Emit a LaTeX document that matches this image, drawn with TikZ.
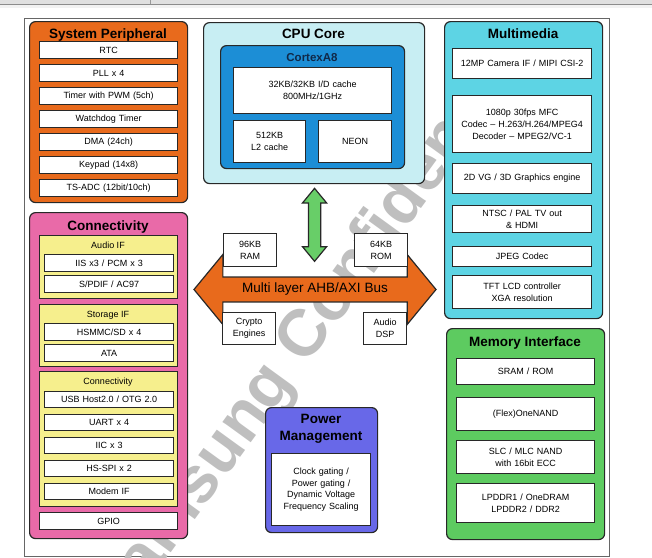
\documentclass[tikz,border=0pt]{standalone}
\usepackage{fontspec}
\setmainfont{Liberation Sans}
\usetikzlibrary{calc,shapes.arrows}

\definecolor{sysorange}{RGB}{232,106,28}
\definecolor{cpucyan}{RGB}{200,238,243}
\definecolor{cortexblue}{RGB}{28,142,214}
\definecolor{cortexink}{RGB}{16,40,72}
\definecolor{mmcyan}{RGB}{93,212,228}
\definecolor{memgreen}{RGB}{93,203,96}
\definecolor{conpink}{RGB}{233,106,168}
\definecolor{subyellow}{RGB}{246,239,141}
\definecolor{pwrblue}{RGB}{104,104,232}
\definecolor{linkgreen}{RGB}{104,206,104}
\definecolor{edge}{RGB}{40,40,40}

\begin{document}
\begin{tikzpicture}[x=1pt,y=-1pt]
    \tikzstyle{group} = [rectangle, rounded corners=6pt, draw=edge, line width=1.2pt,
        inner sep=0pt]
    \tikzstyle{sub} = [rectangle, draw=edge, line width=1pt, fill=subyellow,
        inner sep=0pt, minimum width=138pt]
    \tikzstyle{rec} = [rectangle, draw=edge, line width=1.3pt, fill=white, align=center,
        text width=132pt, minimum width=138pt, minimum height=17pt, inner sep=1pt,
        font=\fontsize{9}{12}\selectfont]
    \tikzstyle{title} = [inner sep=0pt, align=center, font=\fontsize{13.5}{17}\selectfont\bfseries]
    \tikzstyle{subtitle} = [inner sep=0pt, font=\fontsize{9}{11}\selectfont]
    \tikzstyle{fatarrow} = [double arrow, draw=edge, line width=1.2pt, inner sep=0pt,
        double arrow head indent=0pt]

    \useasboundingbox (0,0) rectangle (652,557);
    \clip (0,0) rectangle (652,557);

    % screen border and watermark
    \fill[black!12] (0,0) rectangle (652,3.5);
    \fill[black!5] (0,4) rectangle (652,8);
    \draw[black!45, line width=1pt] (0,4) -- (652,4);
    \draw[black!40, line width=0.8pt] (150,0) -- (150,3.5);
    \draw[black!60, line width=0.8pt] (24,18) rectangle (609,556);
    \node(wmark) [rotate=54, text=black!25, inner sep=0pt,
        font=\fontsize{66}{66}\selectfont\bfseries]
        at (312,330) {Samsung Confidential};

    % system peripheral
    \node(sysp) [group, fill=sysorange, minimum width=158pt, minimum height=181pt]
        at (29,21) [anchor=north west] {};
    \node(syspt) [title] at (108,38) [anchor=base] {System Peripheral};
    \node(rtc) [rec] at (39,41) [anchor=north west] {RTC};
    \node(pll) [rec] at (39,64) [anchor=north west] {PLL x 4};
    \node(timer) [rec] at (39,87) [anchor=north west] {Timer with PWM (5ch)};
    \node(wdt) [rec] at (39,110) [anchor=north west] {Watchdog Timer};
    \node(dma) [rec] at (39,133) [anchor=north west] {DMA (24ch)};
    \node(keypad) [rec] at (39,156) [anchor=north west] {Keypad (14x8)};
    \node(tsadc) [rec] at (39,179) [anchor=north west] {TS-ADC (12bit/10ch)};

    % connectivity
    \node(conn) [group, fill=conpink, minimum width=158pt, minimum height=326pt]
        at (29,212) [anchor=north west] {};
    \node(connt) [title] at (108,230) [anchor=base] {Connectivity};

    \node(audio) [sub, minimum height=63pt] at (39,235) [anchor=north west] {};
    \node(audiot) [subtitle] at (108,248) [anchor=base] {Audio IF};
    \node(iis) [rec, text width=123pt, minimum width=129pt]
        at (44,254) [anchor=north west] {IIS x3 / PCM x 3};
    \node(spdif) [rec, text width=123pt, minimum width=129pt]
        at (44,275) [anchor=north west] {S/PDIF / AC97};

    \node(storage) [sub, minimum height=62pt] at (39,304) [anchor=north west] {};
    \node(storaget) [subtitle] at (108,317) [anchor=base] {Storage IF};
    \node(hsmmc) [rec, text width=123pt, minimum width=129pt]
        at (44,323) [anchor=north west] {HSMMC/SD x 4};
    \node(ata) [rec, text width=123pt, minimum width=129pt]
        at (44,344) [anchor=north west] {ATA};

    \node(serial) [sub, minimum height=135pt] at (39,371) [anchor=north west] {};
    \node(serialt) [subtitle] at (108,384) [anchor=base] {Connectivity};
    \node(usb) [rec, text width=123pt, minimum width=129pt, minimum height=16pt]
        at (44,391) [anchor=north west] {USB Host2.0 / OTG 2.0};
    \node(uart) [rec, text width=123pt, minimum width=129pt, minimum height=16pt]
        at (44,414) [anchor=north west] {UART x 4};
    \node(iic) [rec, text width=123pt, minimum width=129pt, minimum height=16pt]
        at (44,437) [anchor=north west] {IIC x 3};
    \node(spi) [rec, text width=123pt, minimum width=129pt, minimum height=16pt]
        at (44,460) [anchor=north west] {HS-SPI x 2};
    \node(modem) [rec, text width=123pt, minimum width=129pt, minimum height=16pt]
        at (44,483) [anchor=north west] {Modem IF};

    \node(gpio) [rec] at (39,512) [anchor=north west] {GPIO};

    % cpu core
    \node(cpu) [group, fill=cpucyan, minimum width=221pt, minimum height=161pt]
        at (203,22) [anchor=north west] {};
    \node(cput) [title] at (313.5,38) [anchor=base] {CPU Core};
    \node(cortex) [group, fill=cortexblue, minimum width=184pt, minimum height=123pt]
        at (220,45) [anchor=north west] {};
    \node(cortext) [title, font=\fontsize{11.5}{14}\selectfont\bfseries, text=cortexink]
        at (312,61) [anchor=base] {CortexA8};
    \node(l1) [rec, text width=150pt, minimum width=158pt, minimum height=46pt]
        at (233,67) [anchor=north west] {32KB/32KB I/D cache\\800MHz/1GHz};
    \node(l2) [rec, text width=66pt, minimum width=72pt, minimum height=42pt]
        at (233,120) [anchor=north west] {512KB\\L2 cache};
    \node(neon) [rec, text width=66pt, minimum width=73pt, minimum height=42pt]
        at (318,120) [anchor=north west] {NEON};

    % bus and memories on it
    \node(bus) [fatarrow, fill=sysorange, minimum height=242pt, minimum width=70pt,
        double arrow head extend=12.5pt, double arrow tip angle=101,
        font=\fontsize{13.5}{15}\selectfont]
        at (315,289.5) {Multi layer AHB/AXI Bus};
    \node(ram) [rec, text width=48pt, minimum width=53pt, minimum height=33pt]
        at (223,233) [anchor=north west] {96KB\\RAM};
    \node(rom) [rec, text width=48pt, minimum width=53pt, minimum height=33pt]
        at (354,233) [anchor=north west] {64KB\\ROM};
    \node(crypto) [rec, text width=48pt, minimum width=53pt, minimum height=32pt]
        at (222,312) [anchor=north west] {Crypto\\Engines};
    \node(dsp) [rec, text width=38pt, minimum width=43pt, minimum height=32pt]
        at (363,312) [anchor=north west] {Audio\\DSP};

    \node(link) [fatarrow, fill=linkgreen, rotate=90, minimum height=73pt,
        inner xsep=0pt, inner ysep=5.5pt, double arrow head extend=6pt,
        double arrow tip angle=79]
        at ($(cpu.south)!0.5!(bus.north)+(0,-5.5)$) {};

    % multimedia
    \node(mm) [group, fill=mmcyan, minimum width=158pt, minimum height=297pt]
        at (444,21) [anchor=north west] {};
    \node(mmt) [title] at (523,38) [anchor=base] {Multimedia};
    \node(camera) [rec, text width=133pt, minimum width=139pt, minimum height=30pt]
        at (452,48) [anchor=north west] {12MP Camera IF / MIPI CSI-2};
    \node(mfc) [rec, text width=133pt, minimum width=139pt, minimum height=57pt]
        at (452,95) [anchor=north west]
        {1080p 30fps MFC\\Codec -- H.263/H.264/MPEG4\\Decoder -- MPEG2/VC-1};
    \node(gfx) [rec, text width=133pt, minimum width=139pt, minimum height=30pt]
        at (452,163) [anchor=north west] {2D VG / 3D Graphics engine};
    \node(tvout) [rec, text width=133pt, minimum width=139pt, minimum height=27pt]
        at (452,205) [anchor=north west] {NTSC / PAL TV out\\\& HDMI};
    \node(jpeg) [rec, text width=133pt, minimum width=139pt, minimum height=20pt]
        at (452,246) [anchor=north west] {JPEG Codec};
    \node(lcd) [rec, text width=133pt, minimum width=139pt, minimum height=33pt]
        at (452,275) [anchor=north west] {TFT LCD controller\\XGA resolution};

    % memory interface
    \node(mem) [group, fill=memgreen, minimum width=158pt, minimum height=211pt]
        at (446,328) [anchor=north west] {};
    \node(memt) [title] at (525,346) [anchor=base] {Memory Interface};
    \node(sram) [rec, minimum height=26pt]
        at (456,358) [anchor=north west] {SRAM / ROM};
    \node(onenand) [rec, minimum height=33pt]
        at (456,397) [anchor=north west] {(Flex)OneNAND};
    \node(nand) [rec, minimum height=33pt]
        at (456,440) [anchor=north west] {SLC / MLC NAND\\with 16bit ECC};
    \node(dram) [rec, minimum height=39pt]
        at (456,483) [anchor=north west] {LPDDR1 / OneDRAM\\LPDDR2 / DDR2};

    % power management
    \node(pwr) [group, fill=pwrblue, minimum width=112pt, minimum height=125pt]
        at (265,407) [anchor=north west] {};
    \node(pwrt) [title] at (321,414) [anchor=north] {Power\\Management};
    \node(gating) [rec, text width=94pt, minimum width=99pt, minimum height=72pt,
        font=\fontsize{9}{11.5}\selectfont]
        at (271,453) [anchor=north west]
        {Clock gating /\\Power gating /\\Dynamic Voltage\\Frequency Scaling};
\end{tikzpicture}
\end{document}
